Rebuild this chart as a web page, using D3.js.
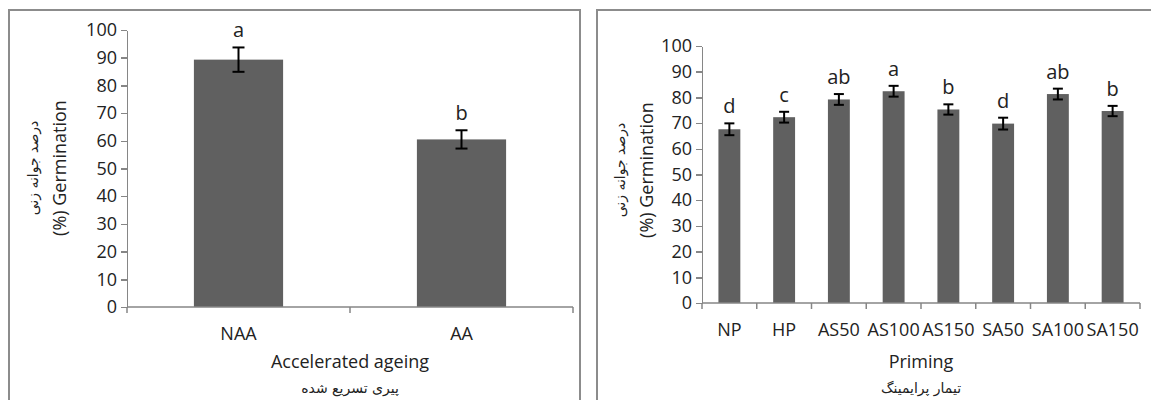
<!DOCTYPE html>
<html lang="en">
<head>
  <meta charset="UTF-8">
  <title>Germination percentage</title>
  <script src="https://d3js.org/d3.v7.min.js"></script>
  <style>
    body {
      margin: 0;
      background: #fff;
      font-family: "Open Sans", sans-serif;
    }
    .axis path,
    .axis line {
      stroke: #868686;
      stroke-width: 1.5;
      shape-rendering: crispEdges;
    }
    .axis text {
      font-size: 18px;
      fill: #222;
      font-family: "Open Sans", sans-serif;
    }
    .fa {
      font-family: "DejaVu Sans", sans-serif;
    }
  </style>
</head>
<body>
  <svg id="chart" width="1151" height="400"></svg>

  <script>
    // Chart 1: accelerated ageing
    const ageingCats = ["NAA", "AA"];
    const ageingMeans = [89.3, 60.5];
    const ageingErrors = [4.4, 3.3];
    const ageingLetters = ["a", "b"];

    // Chart 2: priming
    const primingCats = ["NP", "HP", "AS50", "AS100", "AS150", "SA50", "SA100", "SA150"];
    const primingMeans = [67.6, 72.3, 79.2, 82.4, 75.3, 69.8, 81.3, 74.7];
    const primingErrors = [2.3, 2.1, 2.1, 2.1, 2.0, 2.3, 2.1, 2.0];
    const primingLetters = ["d", "c", "ab", "a", "b", "d", "ab", "b"];

    const yTicks = [0, 10, 20, 30, 40, 50, 60, 70, 80, 90, 100];

    const svg = d3.select("#chart");

    function drawPanel(p) {
      const g = svg.append("g");

      // panel frame
      g.append("rect")
        .attr("x", p.frame[0])
        .attr("y", p.frame[1])
        .attr("width", p.frame[2])
        .attr("height", p.frame[3])
        .attr("fill", "none")
        .attr("stroke", "#8c8c8c")
        .attr("stroke-width", 2);

      const x = d3.scaleBand()
        .domain(p.cats)
        .range([p.left, p.right])
        .paddingInner(0.6)
        .paddingOuter(0.3);

      const y = d3.scaleLinear().domain([0, 100]).range([p.bottom, p.top]);

      // bars
      g.selectAll(".bar")
        .data(p.cats)
        .enter().append("rect")
        .attr("class", "bar")
        .attr("x", d => x(d))
        .attr("y", (d, i) => y(p.means[i]))
        .attr("width", x.bandwidth())
        .attr("height", (d, i) => y(0) - y(p.means[i]))
        .attr("fill", "#606060");

      // y axis
      g.append("g")
        .attr("class", "axis")
        .attr("transform", `translate(${p.left},0)`)
        .call(d3.axisLeft(y).tickValues(yTicks).tickSize(6).tickSizeOuter(0).tickPadding(4));

      // x axis (labels only, ticks at category boundaries)
      const xAxis = g.append("g")
        .attr("class", "axis")
        .attr("transform", `translate(0,${p.bottom})`)
        .call(d3.axisBottom(x).tickSize(0).tickPadding(p.labelPad));
      xAxis.select(".domain").remove();

      g.append("line")
        .attr("x1", p.left).attr("x2", p.right)
        .attr("y1", p.bottom).attr("y2", p.bottom)
        .attr("stroke", "#868686").attr("stroke-width", 1.5);

      const bounds = d3.range(p.cats.length + 1).map(i => p.left + i * x.step());
      g.selectAll(".xtick")
        .data(bounds)
        .enter().append("line")
        .attr("class", "xtick")
        .attr("x1", d => d).attr("x2", d => d)
        .attr("y1", p.bottom).attr("y2", p.bottom + 6)
        .attr("stroke", "#868686").attr("stroke-width", 1.5);

      // error bars
      const cx = d => x(d) + x.bandwidth() / 2;
      const eb = g.selectAll(".err")
        .data(p.cats)
        .enter().append("g")
        .attr("class", "err")
        .attr("stroke", "#000")
        .attr("stroke-width", 2);
      eb.append("line")
        .attr("x1", cx).attr("x2", cx)
        .attr("y1", (d, i) => y(p.means[i] + p.errors[i]))
        .attr("y2", (d, i) => y(p.means[i] - p.errors[i]));
      [1, -1].forEach(s => {
        eb.append("line")
          .attr("x1", d => cx(d) - p.cap).attr("x2", d => cx(d) + p.cap)
          .attr("y1", (d, i) => y(p.means[i] + s * p.errors[i]))
          .attr("y2", (d, i) => y(p.means[i] + s * p.errors[i]));
      });

      // significance letters
      g.selectAll(".letter")
        .data(p.cats)
        .enter().append("text")
        .attr("class", "letter")
        .attr("x", cx)
        .attr("y", (d, i) => y(p.means[i] + p.errors[i]) - 10)
        .attr("text-anchor", "middle")
        .style("font-size", "20px")
        .style("fill", "#222")
        .text((d, i) => p.letters[i]);

      // x titles
      const midX = (p.left + p.right) / 2;
      g.append("text")
        .attr("x", midX)
        .attr("y", p.xTitleY)
        .attr("text-anchor", "middle")
        .style("font-size", "18px")
        .style("fill", "#222")
        .text(p.xTitle);
      g.append("text")
        .attr("class", "fa")
        .attr("x", midX)
        .attr("y", p.xTitleY + 25)
        .attr("text-anchor", "middle")
        .attr("direction", "rtl")
        .style("font-size", "14px")
        .style("fill", "#222")
        .text(p.xTitleFa);

      // y titles
      g.append("text")
        .attr("transform", `translate(${p.yTitleX},${p.yTitleMid}) rotate(-90)`)
        .attr("text-anchor", "middle")
        .attr("dy", "0.35em")
        .style("font-size", "18px")
        .style("fill", "#222")
        .text("(%) Germination");
      g.append("text")
        .attr("class", "fa")
        .attr("transform", `translate(${p.yTitleX - 27},${p.yTitleMid}) rotate(-90)`)
        .attr("text-anchor", "middle")
        .attr("direction", "rtl")
        .attr("dy", "0.35em")
        .style("font-size", "14px")
        .style("fill", "#222")
        .text("درصد جوانه زنی");
    }

    drawPanel({
      frame: [9, 10, 571, 400],
      cats: ageingCats, means: ageingMeans, errors: ageingErrors, letters: ageingLetters,
      left: 127, right: 573, top: 30, bottom: 307,
      cap: 6, labelPad: 20,
      xTitle: "Accelerated ageing", xTitleFa: "پیری تسریع شده", xTitleY: 368,
      yTitleX: 60, yTitleMid: 168
    });

    drawPanel({
      frame: [597, 10, 600, 400],
      cats: primingCats, means: primingMeans, errors: primingErrors, letters: primingLetters,
      left: 702, right: 1140, top: 46, bottom: 303,
      cap: 5, labelPad: 20,
      xTitle: "Priming", xTitleFa: "تیمار پرایمینگ", xTitleY: 368,
      yTitleX: 647, yTitleMid: 170
    });
  </script>
</body>
</html>
